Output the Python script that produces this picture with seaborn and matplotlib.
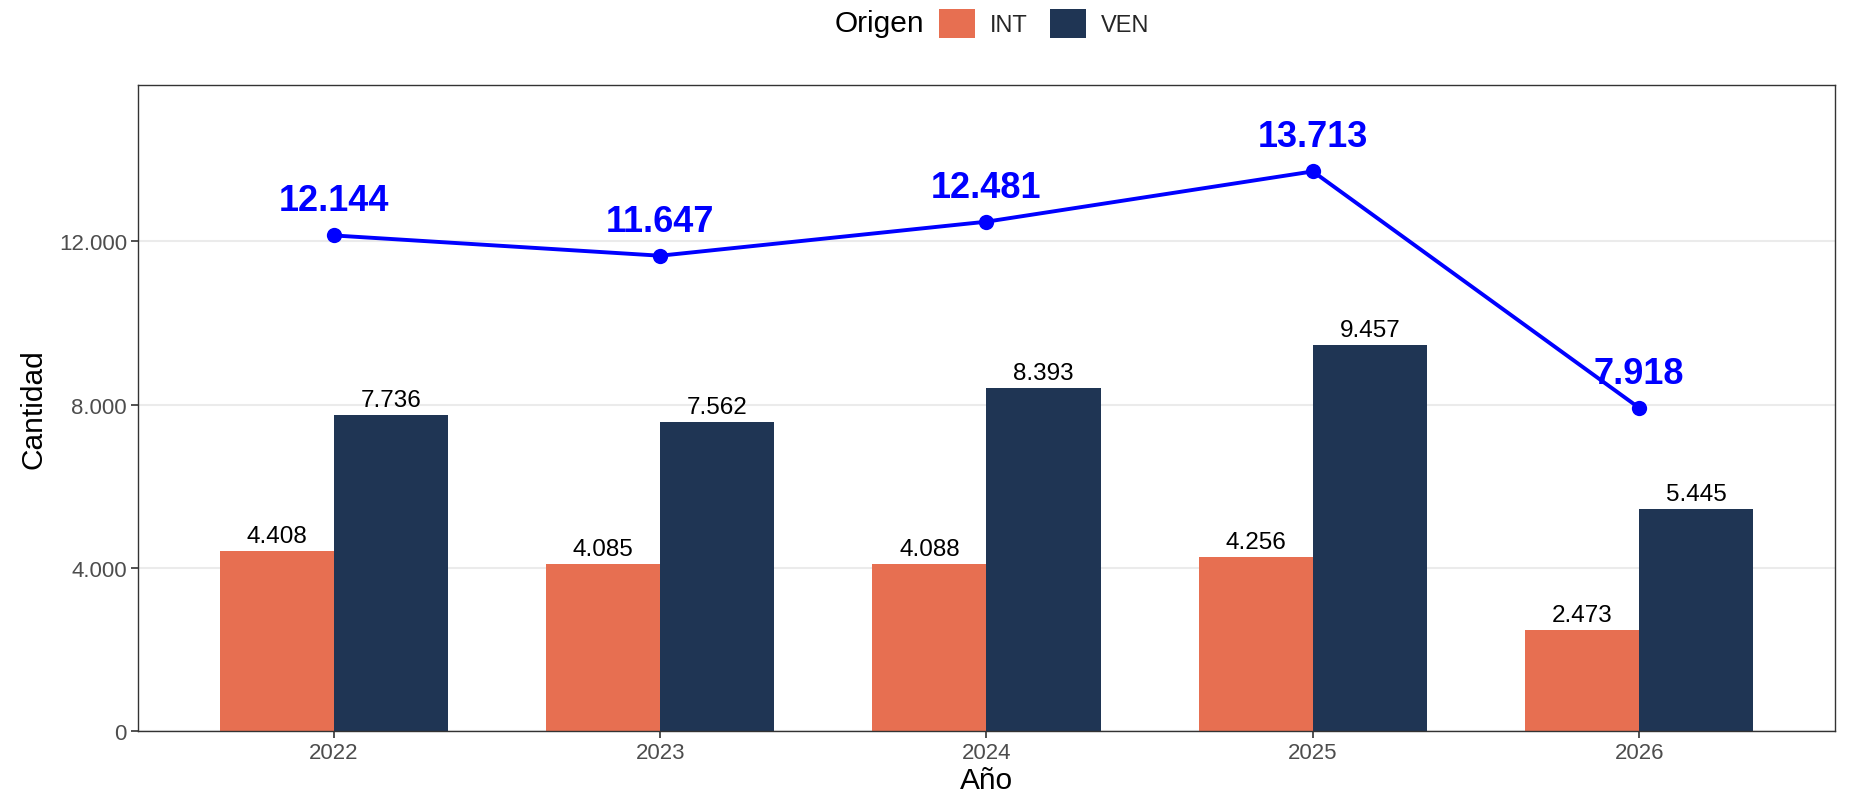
import matplotlib
matplotlib.use("Agg")
import matplotlib.pyplot as plt
from matplotlib.patches import Patch
from matplotlib.ticker import FuncFormatter
import seaborn as sns
import pandas as pd

# Data
years = ["2022", "2023", "2024", "2025", "2026"]
origins = ["INT", "VEN"]
int_values = [4408, 4085, 4088, 4256, 2473]
ven_values = [7736, 7562, 8393, 9457, 5445]
total_values = [12144, 11647, 12481, 13713, 7918]

colors = {"INT": "#E76F51", "VEN": "#1F3554"}


def fmt(v):
    return f"{int(round(v)):,}".replace(",", ".")


df = pd.DataFrame({
    "Año": years * 2,
    "Origen": ["INT"] * len(years) + ["VEN"] * len(years),
    "Cantidad": int_values + ven_values,
})

sns.set_theme(style="white")
plt.rcParams["font.family"] = ["Liberation Sans", "DejaVu Sans"]

fig = plt.figure(figsize=(18.55, 8.04), dpi=100)
ax = fig.add_axes([0.0744, 0.0896, 0.9148, 0.8034])

sns.barplot(data=df, x="Año", y="Cantidad", hue="Origen", order=years,
            hue_order=origins, palette=colors, width=0.7, saturation=1,
            dodge=True, legend=False, ax=ax, edgecolor="none", linewidth=0)

# Value labels on bars
for container, vals in zip(ax.containers, [int_values, ven_values]):
    ax.bar_label(container, labels=[fmt(v) for v in vals], padding=3,
                 fontsize=17.5, color="black")

# Total line
xpos = list(range(len(years)))
sns.lineplot(x=xpos, y=total_values, color="#0000FF", linewidth=2.8, ax=ax,
             marker="o", markersize=11, markeredgewidth=0, zorder=5)
for x, v in zip(xpos, total_values):
    ax.text(x, v + 420, fmt(v), ha="center", va="bottom", fontsize=26,
            fontweight="bold", color="#0000FF", zorder=6)

ax.set_xlim(-0.6, 4.6)
ax.set_ylim(0, 15830)
ax.set_yticks([0, 4000, 8000, 12000])
ax.yaxis.set_major_formatter(FuncFormatter(lambda v, p: fmt(v)))
ax.grid(axis="y", color="#EBEBEB", linewidth=1.5)
ax.grid(axis="x", visible=False)
ax.set_axisbelow(True)
for s in ax.spines.values():
    s.set_color("#333333")
    s.set_linewidth(1.0)
ax.tick_params(axis="both", which="both", length=5, width=1.2, color="#333333",
               labelsize=16, labelcolor="#4D4D4D", bottom=True, left=True, pad=3)
ax.set_xlabel("Año", fontsize=21.5, color="black", labelpad=2)
ax.set_ylabel("Cantidad", fontsize=21.5, color="black", labelpad=8)

# Legend across the top
handles = [Patch(facecolor=colors[o], edgecolor="none", label=o) for o in origins]
fig.legend(handles=handles, loc="center", bbox_to_anchor=(0.563, 0.970), ncol=2,
           frameon=False, fontsize=17, handlelength=1.5, handleheight=1.5,
           handletextpad=0.65, columnspacing=0.95)
fig.text(0.498, 0.970, "Origen", ha="right", va="center", fontsize=21.5, color="black")

fig.savefig("out.png", dpi=100, facecolor="white")
